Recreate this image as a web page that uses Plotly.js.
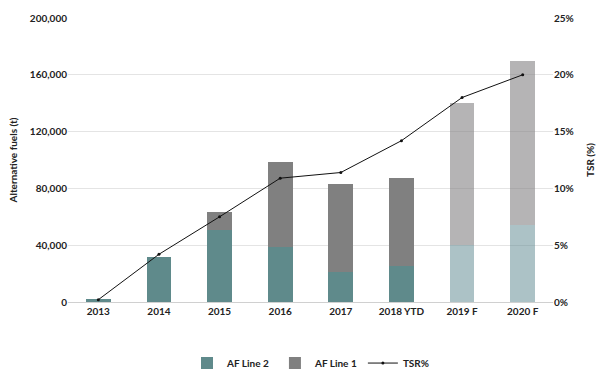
<!DOCTYPE html>
<html>
<head>
<meta charset="utf-8">
<script src="https://cdn.plot.ly/plotly-3.0.1.min.js"></script>
<style>html,body{margin:0;padding:0;background:#fff;}#chart{width:600px;height:389px;}</style>
</head>
<body>
<div id="chart"></div>
<script>
const categories = ["2013", "2014", "2015", "2016", "2017", "2018 YTD", "2019 F", "2020 F"];
const afLine2 = [2000, 31500, 51000, 39000, 21000, 25500, 40000, 54000];
const afLine1 = [0, 0, 12500, 59500, 62000, 61500, 100000, 116000];
const tsr = [0.2, 4.2, 7.5, 10.9, 11.4, 14.2, 18.0, 20.0];
const isForecast = [false, false, false, false, false, false, true, true];

const teal = "#5f8a8b", tealLight = "rgba(95,138,145,0.52)";
const grey = "#808080", greyLight = "rgba(128,126,128,0.58)";

const fam = "Lato, 'Open Sans', sans-serif";
const bold = {family: fam, size: 10, color: "#222", weight: "bold"};

const traces = [
  {type: "bar", name: "AF Line 2", x: categories, y: afLine2,
   marker: {color: isForecast.map(f => f ? tealLight : teal)}, width: 0.41, hoverinfo: "y"},
  {type: "bar", name: "AF Line 1", x: categories, y: afLine1,
   marker: {color: isForecast.map(f => f ? greyLight : grey)}, width: 0.41, hoverinfo: "y"},
  {type: "scatter", mode: "lines+markers", name: "TSR%", x: categories, y: tsr, yaxis: "y2",
   line: {color: "#111", width: 1}, marker: {color: "#111", size: 3}}
];

const layout = {
  width: 600, height: 389,
  margin: {l: 68, r: 47, t: 18, b: 85},
  barmode: "stack",
  paper_bgcolor: "#fff", plot_bgcolor: "#fff",
  font: {family: fam, size: 10, color: "#222"},
  showlegend: true,
  legend: {orientation: "h", traceorder: "normal", x: 0.5, xanchor: "center", y: -0.215, yanchor: "middle",
           font: bold, itemwidth: 30},
  xaxis: {type: "category", showgrid: false, showline: true, linecolor: "#d0d0d0", linewidth: 1,
          ticks: "", tickfont: bold, zeroline: false},
  yaxis: {range: [0, 200000], dtick: 40000, tickformat: ",", showgrid: true, gridcolor: "#e4e4e4",
          zeroline: false, ticks: "", tickfont: bold,
          title: {text: "Alternative fuels (t)", font: bold, standoff: 10}},
  yaxis2: {overlaying: "y", side: "right", range: [0, 25], dtick: 5, ticksuffix: "%", showgrid: false,
           zeroline: false, tickfont: bold,
           title: {text: "TSR (%)", font: bold, standoff: 14}}
};

Plotly.newPlot("chart", traces, layout, {displayModeBar: false, staticPlot: true});
</script>
</body>
</html>
